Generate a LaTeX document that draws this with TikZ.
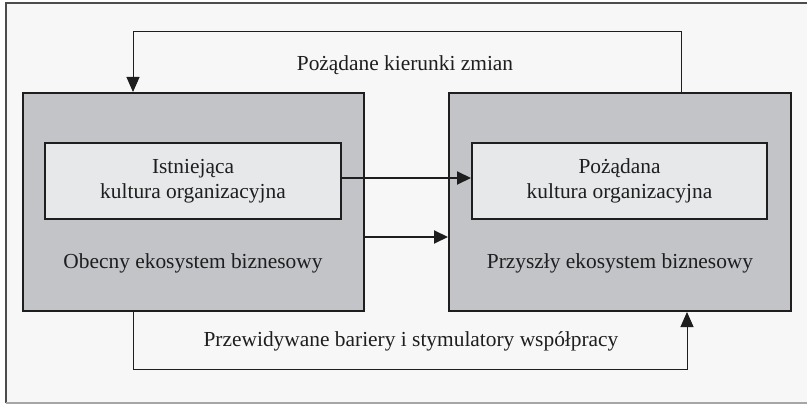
\documentclass[tikz,border=0pt]{standalone}
\usepackage{fontspec}
\setmainfont{Liberation Serif}
\usetikzlibrary{arrows.meta,positioning}

\definecolor{framebg}{HTML}{F7F7F7}
\definecolor{ecofill}{HTML}{C3C4C8}
\definecolor{culturefill}{HTML}{E7E8EA}
\definecolor{inkdark}{HTML}{1E1E1E}

\tikzset{
  ecobox/.style={draw=inkdark, line width=2pt, fill=ecofill, inner sep=0pt,
    minimum width=341pt, minimum height=218pt},
  culturebox/.style={draw=inkdark, line width=2pt, fill=culturefill, inner sep=0pt,
    minimum width=296pt, minimum height=76pt, align=center, text=inkdark},
  lbl/.style={text=inkdark, inner sep=0pt},
  loopline/.style={draw=inkdark, line width=1pt},
  boldarrow/.style={draw=inkdark, line width=2pt, -{Triangle[length=14pt,width=13pt]}},
  loopend/.style={-{Triangle[length=15pt,width=13pt]}}
}

\begin{document}
\begin{tikzpicture}[x=1pt, y=-1pt, font=\fontsize{21.4}{25}\selectfont]
  \useasboundingbox (0,0) rectangle (807,404);
  \clip (0,0) rectangle (807,404);
  % Frame
  \fill[framebg] (6,3) rectangle (812,403);
  \draw[gray!60!black, line width=2pt] (812,3) -- (6,3) -- (6,403);
  \draw[gray!70, line width=2pt] (6,403) -- (812,403);
  % Ecosystems
  \node[ecobox] (obecny) at (193.5,202) {};
  \node[ecobox, minimum width=342pt] (przyszly) at (620,202) {};
  \node[lbl] (obecnyTxt) at (193,263) {Obecny ekosystem biznesowy};
  \node[lbl] (przyszlyTxt) at (620,263) {Przyszły ekosystem biznesowy};
  % Cultures
  \node[culturebox] (istniejaca) at (193,181) {Istniejąca\\kultura organizacyjna};
  \node[culturebox, minimum width=295pt] (pozadana) at (619.5,181) {Pożądana\\kultura organizacyjna};
  % Direct arrows
  \draw[boldarrow] (istniejaca.east |- 0,178) -- (pozadana.west |- 0,178);
  \draw[boldarrow] (obecny.east |- 0,237) -- (przyszly.west |- 0,237);
  % Feedback loops
  \coordinate (topR) at (681,32);
  \coordinate (topL) at (133,32);
  \coordinate (botL) at (133,369);
  \coordinate (botR) at (687,369);
  \draw[loopline, loopend] (przyszly.north -| topR) -- (topR) -- (topL) -- (obecny.north -| topL);
  \draw[loopline, loopend] (obecny.south -| botL) -- (botL) -- (botR) -- (przyszly.south -| botR);
  \node[lbl] (kierunki) at (405,65) {Pożądane kierunki zmian};
  \node[lbl] (bariery) at (411,341) {Przewidywane bariery i stymulatory współpracy};
\end{tikzpicture}
\end{document}
